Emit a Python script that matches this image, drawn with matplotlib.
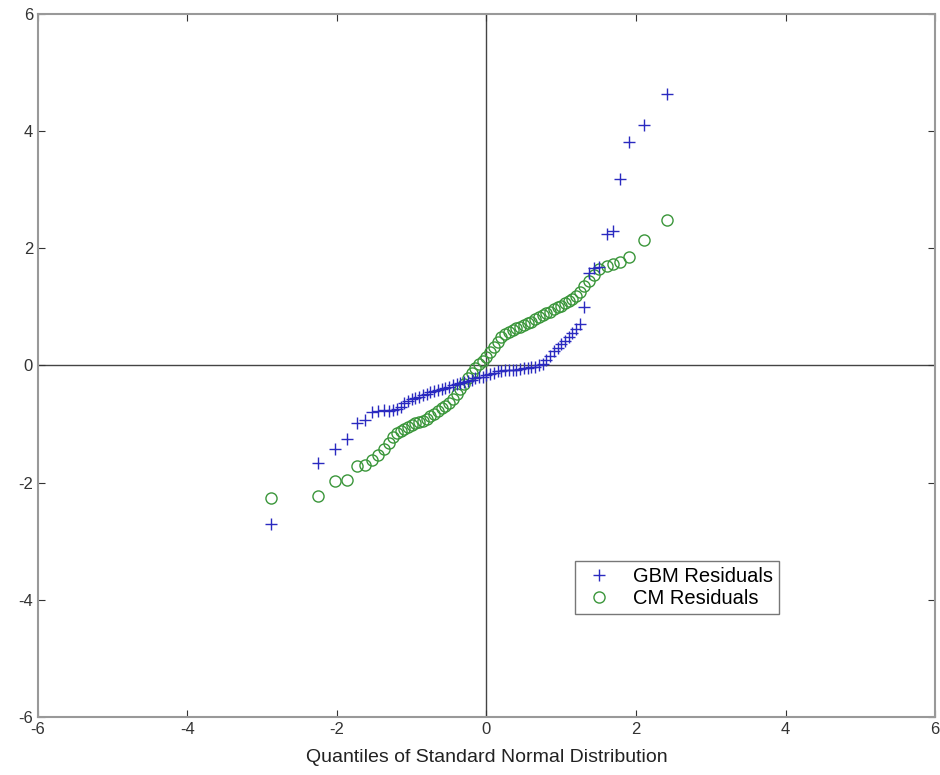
import matplotlib
matplotlib.use("Agg")
import matplotlib.pyplot as plt

# shared normal quantiles
quant = [-2.88, -2.26, -2.02, -1.86, -1.73, -1.63, -1.53, -1.45, -1.37, -1.30,
         -1.25, -1.20, -1.15, -1.10, -1.05, -1.00, -0.95, -0.90, -0.85, -0.80,
         -0.75, -0.70, -0.65, -0.60, -0.55, -0.50, -0.45, -0.40, -0.35, -0.30,
         -0.25, -0.20, -0.15, -0.10, -0.05, 0.00, 0.05, 0.10, 0.15, 0.20,
         0.25, 0.30, 0.35, 0.40, 0.45, 0.50, 0.55, 0.60, 0.65, 0.70,
         0.75, 0.80, 0.85, 0.90, 0.95, 1.00, 1.05, 1.10, 1.15, 1.20,
         1.25, 1.31, 1.37, 1.44, 1.51, 1.61, 1.69, 1.79, 1.90, 2.11, 2.42]

gbm = [-2.71, -1.67, -1.42, -1.25, -0.99, -0.93, -0.80, -0.78, -0.76, -0.77,
       -0.76, -0.75, -0.70, -0.64, -0.60, -0.58, -0.55, -0.53, -0.50, -0.48,
       -0.46, -0.44, -0.42, -0.40, -0.38, -0.36, -0.34, -0.32, -0.30, -0.28,
       -0.26, -0.24, -0.22, -0.20, -0.19, -0.16, -0.14, -0.12, -0.10, -0.09,
       -0.08, -0.08, -0.07, -0.07, -0.06, -0.05, -0.04, -0.03, -0.02, 0.00,
       0.03, 0.09, 0.16, 0.24, 0.30, 0.36, 0.42, 0.49, 0.55, 0.62,
       0.70, 1.00, 1.58, 1.66, 1.68, 2.25, 2.29, 3.19, 3.82, 4.10, 4.64]

cm = [-2.27, -2.22, -1.98, -1.95, -1.71, -1.69, -1.61, -1.52, -1.43, -1.32,
      -1.22, -1.16, -1.12, -1.08, -1.05, -1.02, -0.99, -0.97, -0.95, -0.91,
      -0.87, -0.83, -0.78, -0.73, -0.69, -0.64, -0.58, -0.48, -0.40, -0.31,
      -0.22, -0.13, -0.05, 0.02, 0.08, 0.15, 0.23, 0.31, 0.40, 0.48,
      0.54, 0.58, 0.61, 0.64, 0.66, 0.69, 0.72, 0.75, 0.79, 0.83,
      0.86, 0.89, 0.92, 0.96, 0.99, 1.02, 1.06, 1.10, 1.14, 1.18,
      1.25, 1.35, 1.45, 1.55, 1.64, 1.70, 1.74, 1.77, 1.86, 2.15, 2.49]

ticks = [-6, -4, -2, 0, 2, 4, 6]

plt.rcParams['font.family'] = ['Liberation Sans', 'DejaVu Sans']
plt.rcParams['axes.unicode_minus'] = False

fig = plt.figure(figsize=(9.4, 7.75), dpi=100)
ax = fig.add_axes([0.0404, 0.0748, 0.9543, 0.9072])

ax.axhline(0, color='#444444', lw=1.0, zorder=1)
ax.axvline(0, color='#444444', lw=1.0, zorder=1)

ax.plot(quant, gbm, '+', color='#2a2ac0', ms=9, mew=1.0, label='GBM Residuals', zorder=3)
ax.plot(quant, cm, 'o', color='#3a963a', mfc='none', ms=8, mew=1.0, label='CM Residuals', zorder=2)

ax.set_xlim(-6, 6)
ax.set_ylim(-6, 6)
ax.set_xticks(ticks)
ax.set_yticks(ticks)
ax.tick_params(direction='in', top=True, right=True, labelsize=12, colors='#333333', length=5)
for s in ax.spines.values():
    s.set_color('#999999')
    s.set_linewidth(1.5)

ax.set_xlabel('Quantiles of Standard Normal Distribution', fontsize=14, color='#222222', labelpad=9)

leg = ax.legend(loc='lower left', bbox_to_anchor=(0.5987, 0.1465), fontsize=14.5,
                frameon=True, fancybox=False, borderpad=0.3, handletextpad=0.8,
                labelspacing=0.15, handlelength=1.8, borderaxespad=0)
leg.get_frame().set_edgecolor('#555555')
leg.get_frame().set_linewidth(1.0)

fig.savefig('out.png', dpi=100)
